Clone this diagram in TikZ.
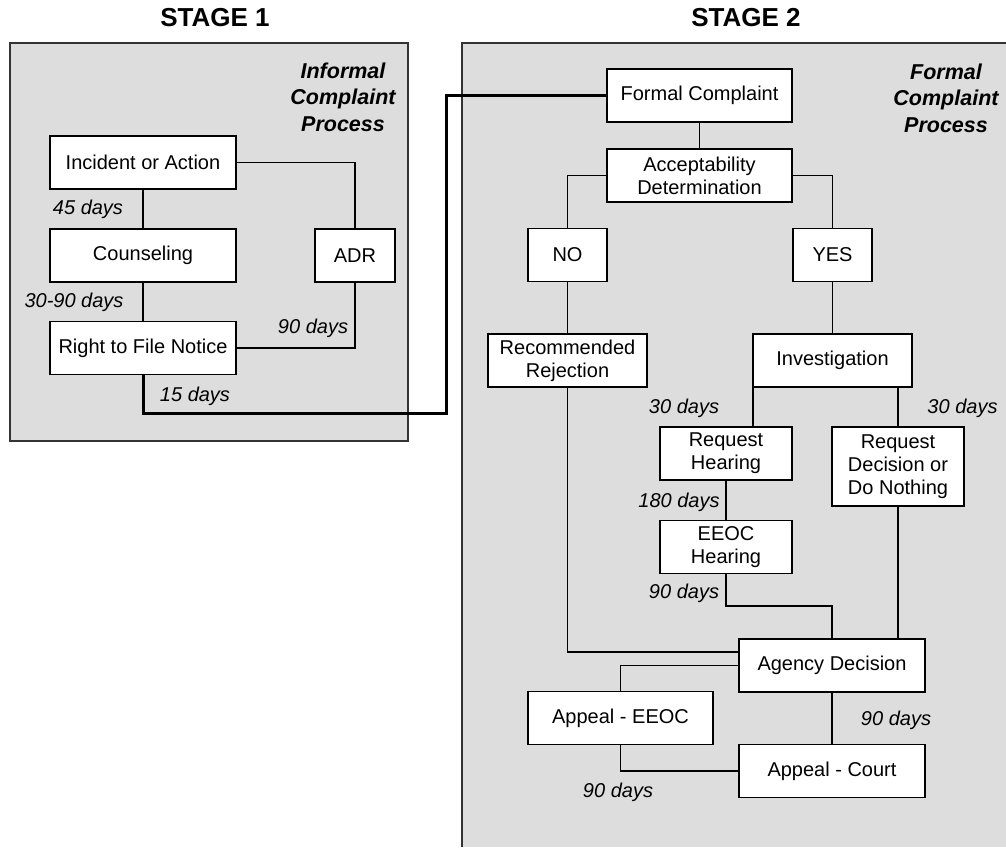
\documentclass[tikz,border=0pt]{standalone}
\usepackage{fontspec}
\setmainfont{Liberation Sans}
\usepackage{tikz}
\definecolor{panelgray}{RGB}{221,221,221}

\begin{document}
\begin{tikzpicture}[x=1pt,y=-1pt,inner sep=0pt,outer sep=0pt,line width=1.5pt,
	box/.style={draw,fill=white,line width=1.8pt,align=center,minimum height=53pt,
		font=\fontsize{20}{23}\selectfont},
	days/.style={font=\fontsize{20}{23}\selectfont\itshape},
	head/.style={align=center,font=\fontsize{21.5}{26.5}\selectfont\bfseries\itshape},
	stage/.style={font=\fontsize{26}{30}\selectfont\bfseries}]
	\useasboundingbox (0,0) rectangle (1006,847);
	% panels
	\fill[panelgray] (10,43) rectangle (408,441);
	\draw[line width=1.3pt,black!80] (10,43) rectangle (408,441);
	\fill[panelgray] (462,43) rectangle (1006,847);
	\draw[line width=1.3pt,black!80] (462,847) -- (462,43) -- (1006,43);
	\node[stage] (t1) at (215,18) {STAGE 1};
	\node[stage] (t2) at (746,18) {STAGE 2};
	\node[head] (h1) at (343,97) {Informal\\Complaint\\Process};
	\node[head] (h2) at (946,98) {Formal\\Complaint\\Process};
	% stage 1
	\node[box,minimum width=186pt] (inc) at (143,162.5) {Incident or Action};
	\node[box,minimum width=186pt] (cou) at (143,255.5) {Counseling};
	\node[box,minimum width=186pt] (rtf) at (143,348)   {Right to File Notice};
	\node[box,minimum width=80pt]  (adr) at (355,255.5) {ADR};
	% stage 2
	\node[box,minimum width=185pt] (fc)  at (699.5,95.5) {Formal Complaint};
	\node[box,minimum width=185pt] (acc) at (699.5,175.5) {Acceptability\\Determination};
	\node[box,minimum width=79pt]  (no)  at (567.5,255) {NO};
	\node[box,minimum width=79pt]  (yes) at (832.5,255) {YES};
	\node[box,minimum width=159pt] (rr)  at (567.5,360.5) {Recommended\\Rejection};
	\node[box,minimum width=159pt] (inv) at (832.5,360.5) {Investigation};
	\node[box,minimum width=132pt] (rh)  at (726,453.5) {Request\\Hearing};
	\node[box,minimum width=132pt,minimum height=79pt] (rd) at (898,466.5) {Request\\Decision or\\Do Nothing};
	\node[box,minimum width=132pt] (eh)  at (726,547) {EEOC\\Hearing};
	\node[box,minimum width=186pt] (ag)  at (832,665.5) {Agency Decision};
	\node[box,minimum width=185pt] (ae)  at (620.5,718) {Appeal - EEOC};
	\node[box,minimum width=186pt] (ac)  at (832,771) {Appeal - Court};
	\coordinate (bend)   at (446,413);
	\coordinate (ehjoin) at (726,606);
	\begin{scope}[line width=1.5pt]
	\draw (inc) -- (cou);
	\draw (cou) -- (rtf);
	\draw (inc.east) -| (adr.north);
	\draw (adr.south) |- (rtf.east);
	\draw[line width=3pt] (rtf.south) |- (bend) |- (fc.west);
	\draw (fc) -- (acc);
	\draw (acc.west) -| (no.north);
	\draw (acc.east) -| (yes.north);
	\draw (no) -- (rr);
	\draw (yes) -- (inv);
	\draw (inv.south west) -- (inv.south west |- rh.north);
	\draw (inv.south -| rd.north) -- (rd.north);
	\draw (rh) -- (eh);
	\draw (eh.south) -- (ehjoin) -| (ag.north);
	\draw (rd.south) -- (rd.south |- ag.north);
	\draw (rr.south) |- ([yshift=13.5pt]ag.west);
	\draw (ag.west) -| (ae.north);
	\draw (ag) -- (ac);
	\draw (ae.south) |- (ac.west);
	\end{scope}
	% time limits
	\node[days] (d1) at (88,209)  {45 days};
	\node[days] (d2) at (74,302)  {30-90 days};
	\node[days] (d3) at (313,328) {90 days};
	\node[days] (d4) at (195,396) {15 days};
	\node[days] (d5) at (684,408) {30 days};
	\node[days] (d6) at (962.5,408) {30 days};
	\node[days] (d7) at (679,502) {180 days};
	\node[days] (d8) at (684,593) {90 days};
	\node[days] (d9) at (896,720) {90 days};
	\node[days] (d10) at (618,792) {90 days};
\end{tikzpicture}
\end{document}
